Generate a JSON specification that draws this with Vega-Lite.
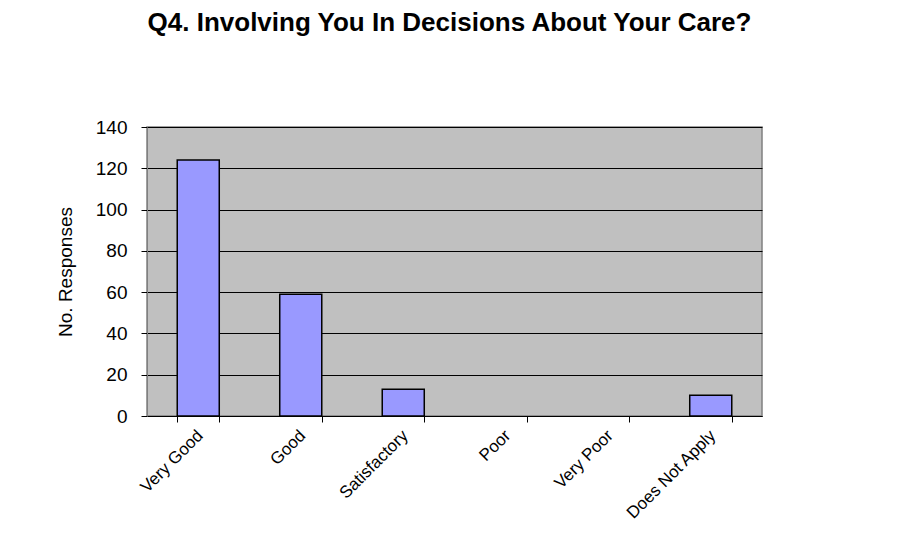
{
  "$schema": "https://vega.github.io/schema/vega-lite/v6.json",
  "autosize": {"type": "none"},
  "width": 615,
  "height": 289,
  "padding": {"left": 147, "top": 127, "right": 153, "bottom": 119},
  "background": "white",
  "title": {
    "text": "Q4. Involving You In Decisions About Your Care?",
    "font": "Liberation Sans",
    "fontSize": 26,
    "fontWeight": "bold",
    "color": "black",
    "anchor": "middle",
    "dx": -5,
    "offset": 82
  },
  "data": {
    "values": [
      {"category": "Very Good", "responses": 124},
      {"category": "Good", "responses": 59},
      {"category": "Satisfactory", "responses": 13},
      {"category": "Poor", "responses": 0},
      {"category": "Very Poor", "responses": 0},
      {"category": "Does Not Apply", "responses": 10}
    ]
  },
  "mark": {"type": "bar", "fill": "#9999FF", "stroke": "black", "strokeWidth": 1.5},
  "encoding": {
    "x": {
      "field": "category",
      "type": "nominal",
      "sort": null,
      "scale": {"paddingInner": 0.59, "paddingOuter": 0.295},
      "axis": {
        "title": null,
        "labelAngle": -45,
        "labelFont": "Liberation Sans",
        "labelFontSize": 17,
        "labelColor": "black",
        "labelPadding": 5,
        "labelOffset": -4,
        "tickBand": "extent",
        "tickSize": 6,
        "tickColor": "black",
        "domainColor": "black",
        "domainWidth": 1
      }
    },
    "y": {
      "field": "responses",
      "type": "quantitative",
      "scale": {"domain": [0, 140], "nice": false},
      "axis": {
        "title": "No. Responses",
        "titleFont": "Liberation Sans",
        "titleFontSize": 19,
        "titleFontWeight": "normal",
        "titleColor": "black",
        "titlePadding": 20,
        "values": [0, 20, 40, 60, 80, 100, 120, 140],
        "labelFont": "Liberation Sans",
        "labelFontSize": 19,
        "labelColor": "black",
        "labelPadding": 14,
        "tickSize": 6,
        "tickColor": "black",
        "domainColor": "#808080",
        "grid": true,
        "gridColor": "black",
        "gridWidth": 1,
        "gridOpacity": 1
      }
    },
    "strokeOpacity": {
      "condition": {"test": "datum.responses > 0", "value": 1},
      "value": 0
    }
  },
  "config": {
    "view": {"fill": "#C0C0C0", "stroke": "#808080", "strokeWidth": 1.5}
  }
}
